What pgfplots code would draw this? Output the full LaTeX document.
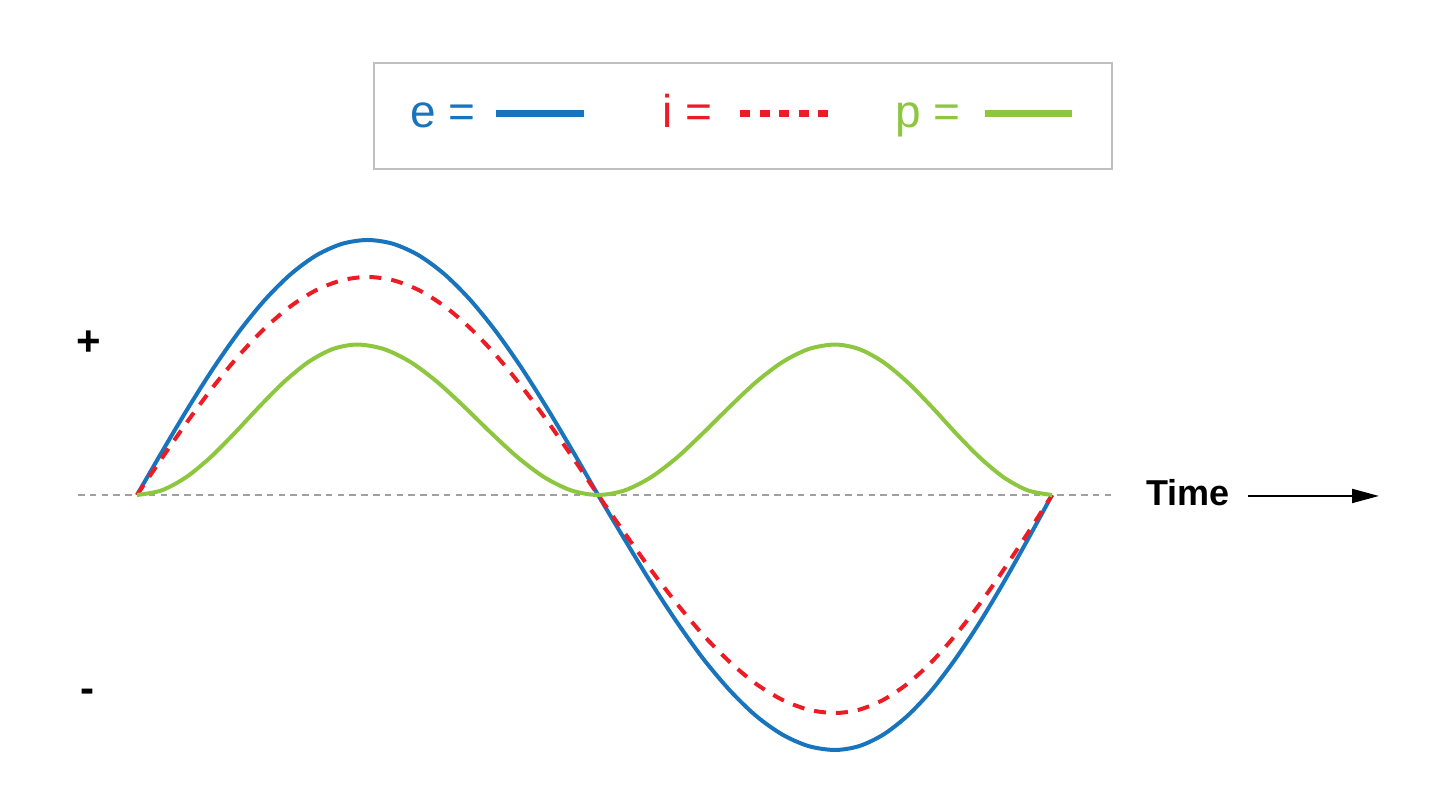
\documentclass[border=0pt]{standalone}
\usepackage{fontspec}
\setmainfont{Liberation Sans}
\usepackage{pgfplots}
\pgfplotsset{compat=1.18}
\usetikzlibrary{arrows.meta}

\definecolor{eblue}{RGB}{24,116,188}
\definecolor{ired}{RGB}{237,28,36}
\definecolor{pgreen}{RGB}{141,198,63}
\definecolor{zgray}{RGB}{160,160,160}
\definecolor{boxgray}{RGB}{192,192,192}

% pixel -> rel axis cs (picture is 1443 x 810 px)
\newcommand{\px}[2]{(rel axis cs:{#1/1443},{1-#2/810})}

\begin{document}
\begin{tikzpicture}
\begin{axis}[
  scale only axis,
  width=721.5pt, height=405pt,
  xmin=-53.9, xmax=513.8,
  ymin=-1.2353, ymax=1.9412,
  hide axis,
  clip=false,
]
% whole picture area
\path \px{0}{0} rectangle \px{1443}{810};
% zero line
\draw[zgray, line width=1.2pt, dash pattern=on 3.3pt off 2.6pt] \px{78}{495} -- \px{1115}{495};

% e
\addplot[eblue, line width=2pt, smooth] coordinates {
(0,0) (10.08,0.1736) (20.16,0.3420) (30.23,0.5000) (40.31,0.6428) (50.39,0.7660)
(60.47,0.8660) (70.54,0.9397) (80.62,0.9848) (90.70,1.0000) (100.78,0.9848)
(110.86,0.9397) (120.93,0.8660) (131.01,0.7660) (141.09,0.6428) (151.17,0.5000)
(161.24,0.3420) (171.32,0.1736) (181.4,0)
(191.8,-0.1736) (202.1,-0.3420) (212.5,-0.5000) (222.8,-0.6428) (233.2,-0.7660)
(243.5,-0.8660) (253.9,-0.9397) (264.2,-0.9848) (274.6,-1.0000) (284.1,-0.9848)
(293.6,-0.9397) (303.1,-0.8660) (312.6,-0.7660) (322.0,-0.6428) (331.5,-0.5000)
(341.0,-0.3420) (350.5,-0.1736) (360,0)
};
% i
\addplot[ired, line width=2pt, smooth, dash pattern=on 6pt off 5pt] coordinates {
(0,0) (10.08,0.1485) (20.16,0.2924) (30.23,0.4275) (40.31,0.5496) (50.39,0.6549)
(60.47,0.7404) (70.54,0.8034) (80.62,0.8420) (90.70,0.8550) (100.78,0.8420)
(110.86,0.8034) (120.93,0.7404) (131.01,0.6549) (141.09,0.5496) (151.17,0.4275)
(161.24,0.2924) (171.32,0.1485) (181.4,0)
(191.8,-0.1485) (202.1,-0.2924) (212.5,-0.4275) (222.8,-0.5496) (233.2,-0.6549)
(243.5,-0.7404) (253.9,-0.8034) (264.2,-0.8420) (274.6,-0.8550) (284.1,-0.8420)
(293.6,-0.8034) (303.1,-0.7404) (312.6,-0.6549) (322.0,-0.5496) (331.5,-0.4275)
(341.0,-0.2924) (350.5,-0.1485) (360,0)
};
% p
\addplot[pgreen, line width=2pt, smooth] coordinates {
(0,0) (9.62,0.0178) (19.24,0.0690) (28.87,0.1475) (38.49,0.2438) (48.11,0.3462)
(57.73,0.4425) (67.36,0.5210) (76.98,0.5722) (86.6,0.5900) (97.13,0.5722)
(107.66,0.5210) (118.2,0.4425) (128.73,0.3462) (139.26,0.2438) (149.8,0.1475)
(160.33,0.0690) (170.87,0.0178) (181.4,0)
(191.8,0.0178) (202.1,0.0690) (212.5,0.1475) (222.8,0.2438) (233.2,0.3462)
(243.5,0.4425) (253.9,0.5210) (264.2,0.5722) (274.6,0.5900) (284.1,0.5722)
(293.6,0.5210) (303.1,0.4425) (312.6,0.3462) (322.0,0.2438) (331.5,0.1475)
(341.0,0.0690) (350.5,0.0178) (360,0)
};

% legend box
\draw[boxgray, line width=1pt] \px{374}{63} rectangle \px{1112}{169};
\node[anchor=base east, text=eblue, font=\fontsize{23}{26}\selectfont, inner sep=0pt] at \px{476}{128} {e =};
\draw[eblue, line width=3.5pt] \px{496}{114} -- \px{584}{114};
\node[anchor=base east, text=ired, font=\fontsize{23}{26}\selectfont, inner sep=0pt] at \px{713}{128} {i =};
\draw[ired, line width=3.5pt, dash pattern=on 5pt off 4.75pt] \px{740}{114} -- \px{829}{114};
\node[anchor=base east, text=pgreen, font=\fontsize{23}{26}\selectfont, inner sep=0pt] at \px{961}{128} {p =};
\draw[pgreen, line width=3.5pt] \px{985}{114} -- \px{1072}{114};

% labels
\node[anchor=base, font=\bfseries\fontsize{18}{21}\selectfont, inner sep=0pt] at \px{1188}{506} {Time};
\draw[line width=1pt, -{Triangle[length=13.5pt,width=7pt]}] \px{1248}{496} -- \px{1379}{496};
\node[font=\bfseries\fontsize{21}{24}\selectfont, inner sep=0pt] at \px{89}{343} {+};
\node[font=\bfseries\fontsize{21}{24}\selectfont, inner sep=0pt] at \px{88}{696} {-};
\end{axis}
\end{tikzpicture}
\end{document}
